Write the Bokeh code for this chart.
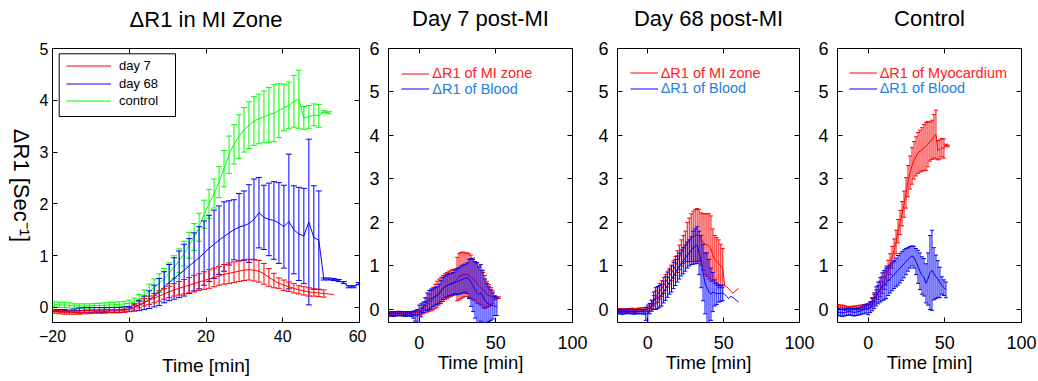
import math
import numpy as np
from bokeh.plotting import figure
from bokeh.layouts import row
from bokeh.models import Range1d, FixedTicker, LinearAxis, Legend, LegendItem, BoxAnnotation
from bokeh.embed import file_html
from bokeh.resources import INLINE

FONT = "Liberation Sans"
NaN = float("nan")

# ---------------- data ----------------
# sampling times [min]
T = [-19.5, -18.2, -16.9, -15.6, -14.3, -13.0, -11.7, -10.4, -9.1, -7.8,
     -6.5, -5.2, -3.9, -2.6, -1.3,
     0.0, 1.3, 2.6, 3.9, 5.2, 6.5, 7.8, 9.1, 10.4, 11.7,
     13.0, 14.3, 15.6, 16.9, 18.2, 19.5, 20.8, 22.1, 23.4, 24.7,
     26.0, 27.3, 28.6, 29.9, 31.2, 32.5, 33.8, 35.1, 36.4, 37.7,
     39.0, 40.3, 41.6, 42.9, 44.2, 45.5, 46.8, 48.1, 49.4, 50.7,
     52.0]
T_TAIL = [53.3, 54.6, 55.9, 57.2, 58.5, 59.8, 61.1]

# Control myocardium (green in panel 1, red in panel 4)
ctrl_myo_mean = [0.06, 0.05, 0.05, 0.04, 0.03, 0.03, 0.03, 0.03, 0.04, 0.04,
                 0.04, 0.05, 0.05, 0.06, 0.07,
                 0.08, 0.11, 0.16, 0.23, 0.31, 0.39, 0.47, 0.56, 0.66, 0.78,
                 0.90, 1.04, 1.20, 1.36, 1.55, 1.80, 2.00, 2.20, 2.42, 2.68,
                 2.95, 3.15, 3.30, 3.43, 3.52, 3.60, 3.64, 3.68, 3.72, 3.75,
                 3.80, 3.86, 3.90, 3.98, 4.02, 3.66, 3.68, 3.72, 3.70, 3.78,
                 3.76]
ctrl_myo_err = [0.05, 0.05, 0.05, 0.05, 0.04, 0.04, 0.04, 0.04, 0.04, 0.04,
                0.05, 0.05, 0.05, 0.05, 0.05,
                0.06, 0.07, 0.09, 0.11, 0.14, 0.16, 0.18, 0.19, 0.20, 0.22,
                0.23, 0.24, 0.25, 0.26, 0.27, 0.27, 0.28, 0.28, 0.30, 0.35,
                0.36, 0.38, 0.42, 0.43, 0.45, 0.47, 0.48, 0.50, 0.53, 0.55,
                0.52, 0.45, 0.45, 0.50, 0.56, 0.22, 0.22, 0.21, 0.22, 0.02,
                0.02]

# Panel 1: day 68 MI zone (blue)
d68_zone_mean = [-0.06, -0.06, -0.06, -0.07, -0.06, -0.06, -0.05, -0.05, -0.05, -0.05,
                 -0.05, -0.05, -0.05, -0.05, -0.04,
                 -0.03, 0.00, 0.04, 0.09, 0.15, 0.22, 0.30, 0.39, 0.48, 0.56,
                 0.64, 0.72, 0.80, 0.88, 0.96, 1.05, 1.14, 1.22, 1.30, 1.37,
                 1.44, 1.50, 1.55, 1.58, 1.62, 1.70, 1.83, 1.74, 1.70, 1.68,
                 1.63, 1.56, 1.66, 1.50, 1.42, 1.38, 1.65, 1.35, 1.30, 0.55,
                 0.55]
d68_zone_err = [0.02, 0.02, 0.02, 0.02, 0.03, 0.05, 0.05, 0.05, 0.05, 0.05,
                0.05, 0.05, 0.05, 0.05, 0.05,
                0.05, 0.07, 0.10, 0.13, 0.17, 0.21, 0.26, 0.30, 0.35, 0.40,
                0.45, 0.50, 0.53, 0.56, 0.60, 0.62, 0.64, 0.66, 0.66, 0.67,
                0.62, 0.58, 0.65, 0.67, 0.75, 0.78, 0.68, 0.62, 0.70, 0.75,
                0.78, 0.80, 1.30, 0.85, 0.90, 0.92, 1.60, 1.00, 0.95, 0.02,
                0.02]
d68_zone_tail = [0.54, 0.52, 0.48, 0.40, 0.40, 0.46, 0.47]
d68_zone_tail_err = [0.02, 0.02, 0.02, 0.02, 0.02, 0.02, 0.02]

# Panel 1: day 7 MI zone (red)
d7_zone_mean = [-0.08, -0.09, -0.10, -0.10, -0.10, -0.10, -0.09, -0.09, -0.08, -0.08,
                -0.08, -0.07, -0.07, -0.07, -0.06,
                -0.04, 0.00, 0.05, 0.10, 0.14, 0.18, 0.22, 0.26, 0.30, 0.34,
                0.37, 0.40, 0.43, 0.46, 0.49, 0.52, 0.55, 0.58, 0.61, 0.64,
                0.66, 0.68, 0.70, 0.72, 0.73, 0.72, 0.70, 0.65, 0.58, 0.52,
                0.47, 0.43, 0.40, 0.37, 0.34, 0.32, 0.30, 0.29, 0.28, 0.27,
                0.26]
d7_zone_err = [0.03, 0.03, 0.03, 0.03, 0.03, 0.03, 0.03, 0.03, 0.03, 0.03,
               0.03, 0.03, 0.03, 0.03, 0.03,
               0.04, 0.05, 0.06, 0.07, 0.08, 0.09, 0.10, 0.10, 0.11, 0.12,
               0.13, 0.14, 0.15, 0.16, 0.16, 0.17, 0.18, 0.18, 0.18, 0.19,
               0.20, 0.20, 0.20, 0.20, 0.20, 0.21, 0.21, 0.20, 0.17, 0.14,
               0.10, 0.10, 0.09, 0.09, 0.08, 0.08, 0.08, 0.07, 0.07, 0.07,
               NaN]
d7_zone_tail = [0.25]

# Panel 2: Day 7 post-MI, MI zone (red) and blood (blue)
p2_mi_mean = [-0.10, -0.11, -0.10, -0.10, -0.09, -0.10, -0.10, -0.09, -0.09, -0.10,
              -0.10, -0.09, -0.09, -0.08, -0.08,
              -0.08, -0.04, 0.00, 0.05, 0.10, 0.15, 0.20, 0.25, 0.30, 0.35,
              0.40, 0.44, 0.48, 0.52, 0.55, 0.58, 0.60, 0.62, 0.65, 0.70,
              0.75, 0.78, 0.80, 0.80, 0.80, 0.78, 0.75, 0.70, 0.65, 0.60,
              0.55, 0.50, 0.45, 0.40, 0.35, 0.32, 0.30, 0.28, 0.27, 0.27,
              0.27]
p2_mi_err = [0.04, 0.04, 0.04, 0.04, 0.04, 0.04, 0.04, 0.04, 0.04, 0.04,
             0.04, 0.04, 0.04, 0.04, 0.04,
             0.05, 0.07, 0.10, 0.13, 0.16, 0.20, 0.23, 0.26, 0.28, 0.30,
             0.30, 0.30, 0.30, 0.30, 0.30, 0.30, 0.30, 0.30, 0.28, 0.50,
             0.53, 0.53, 0.52, 0.50, 0.50, 0.50, 0.50, 0.48, 0.45, 0.45,
             0.42, 0.40, 0.40, 0.38, 0.30, 0.25, 0.20, 0.15, 0.05, 0.02,
             0.02]
p2_bl_mean = [-0.10, -0.10, -0.11, -0.10, -0.10, -0.09, -0.10, -0.10, -0.11, -0.10,
              -0.10, -0.11, -0.12, -0.15, -0.15,
              -0.10, -0.02, 0.05, 0.12, 0.18, 0.22, 0.25, 0.27, 0.30, 0.32,
              0.36, 0.42, 0.48, 0.52, 0.55, 0.57, 0.58, 0.60, 0.62, 0.64,
              0.66, 0.68, 0.70, 0.72, 0.72, 0.70, 0.62, 0.55, 0.45, 0.38,
              0.35, 0.38, 0.30, 0.20, 0.15, 0.12, 0.10, 0.08, 0.08, 0.06,
              NaN]
p2_bl_err = [0.05, 0.05, 0.05, 0.05, 0.05, 0.05, 0.05, 0.05, 0.05, 0.05,
             0.05, 0.05, 0.08, 0.12, 0.15,
             0.20, 0.15, 0.12, 0.15, 0.20, 0.22, 0.22, 0.20, 0.20, 0.20,
             0.22, 0.24, 0.25, 0.25, 0.25, 0.25, 0.25, 0.25, 0.28, 0.30,
             0.30, 0.32, 0.32, 0.32, 0.35, 0.45, 0.55, 0.60, 0.65, 0.70,
             0.65, 0.65, 0.60, 0.50, 0.45, 0.40, 0.35, 0.30, 0.22, 0.20,
             NaN]

# Panel 3: Day 68 post-MI
p3_mi_mean = [-0.02, -0.03, -0.02, -0.02, -0.03, -0.02, -0.02, -0.01, -0.02, -0.02,
              -0.01, -0.01, 0.00, 0.00, 0.00,
              0.00, 0.05, 0.12, 0.20, 0.28, 0.35, 0.42, 0.48, 0.55, 0.62,
              0.70, 0.77, 0.84, 0.92, 1.00, 1.10, 1.20, 1.30, 1.38, 1.45,
              1.55, 1.60, 1.65, 1.68, 1.70, 1.72, 1.70, 1.62, 1.55, 1.50,
              1.48, 1.45, 1.40, 1.25, 1.15, 1.10, 1.05, 1.00, 0.95, 0.54,
              0.52]
p3_mi_err = [0.04, 0.04, 0.04, 0.04, 0.04, 0.04, 0.04, 0.04, 0.04, 0.04,
             0.04, 0.04, 0.04, 0.04, 0.04,
             0.05, 0.08, 0.10, 0.12, 0.15, 0.18, 0.18, 0.18, 0.18, 0.18,
             0.18, 0.18, 0.18, 0.20, 0.22, 0.25, 0.28, 0.30, 0.32, 0.35,
             0.45, 0.50, 0.55, 0.58, 0.60, 0.60, 0.60, 0.60, 0.65, 0.70,
             0.72, 0.75, 0.75, 0.60, 0.55, 0.55, 0.55, 0.50, 0.45, NaN,
             NaN]
p3_mi_tail = [0.48, 0.42, 0.38, 0.40, 0.45, 0.48]
p3_bl_mean = [-0.05, -0.05, -0.06, -0.05, -0.05, -0.04, -0.05, -0.05, -0.06, -0.05,
              -0.05, -0.05, -0.05, -0.06, -0.10,
              -0.10, 0.02, 0.08, 0.20, 0.25, 0.27, 0.30, 0.33, 0.40, 0.48,
              0.56, 0.63, 0.70, 0.78, 0.85, 0.93, 1.00, 1.07, 1.12, 1.18,
              1.25, 1.30, 1.35, 1.42, 1.45, 1.48, 1.30, 1.10, 0.85, 0.60,
              0.50, 0.40, 0.35, 0.40, 0.38, 0.36, 0.37, 0.37, 0.38, 0.35,
              0.30]
p3_bl_err = [0.05, 0.05, 0.05, 0.05, 0.05, 0.05, 0.05, 0.05, 0.05, 0.05,
             0.05, 0.05, 0.05, 0.05, 0.15,
             0.20, 0.12, 0.12, 0.20, 0.25, 0.25, 0.25, 0.25, 0.25, 0.27,
             0.28, 0.28, 0.30, 0.30, 0.30, 0.30, 0.30, 0.30, 0.30, 0.30,
             0.30, 0.30, 0.32, 0.38, 0.40, 0.42, 0.50, 0.60, 0.65, 0.70,
             0.80, 0.75, 0.60, 0.45, 0.30, 0.25, 0.20, 0.18, 0.18, NaN,
             NaN]
p3_bl_tail = [0.25, 0.30, 0.28, 0.25, 0.20, 0.18]

# Panel 4: Control, blood (blue); myocardium = ctrl_myo_*
p4_bl_mean = [-0.06, -0.07, -0.08, -0.07, -0.06, -0.05, -0.05, -0.06, -0.07, -0.06,
              -0.05, -0.04, -0.02, 0.00, 0.02,
              0.00, 0.05, 0.12, 0.20, 0.30, 0.38, 0.45, 0.52, 0.56, 0.60,
              0.65, 0.70, 0.75, 0.80, 0.85, 0.90, 0.95, 1.00, 1.05, 1.10,
              1.15, 1.20, 1.23, 1.20, 1.10, 0.98, 0.88, 0.78, 0.74, 0.60,
              0.70, 0.85, 0.90, 0.82, 0.75, 0.70, 0.62, 0.55, 0.50, 0.45,
              NaN]
p4_bl_err = [0.08, 0.08, 0.08, 0.08, 0.08, 0.08, 0.08, 0.08, 0.08, 0.08,
             0.08, 0.08, 0.08, 0.10, 0.10,
             0.12, 0.12, 0.15, 0.18, 0.22, 0.25, 0.28, 0.32, 0.34, 0.35,
             0.33, 0.32, 0.32, 0.32, 0.33, 0.34, 0.34, 0.33, 0.32, 0.30,
             0.27, 0.25, 0.23, 0.25, 0.30, 0.38, 0.42, 0.43, 0.43, 0.45,
             0.60, 0.85, 0.92, 0.60, 0.50, 0.42, 0.35, 0.20, 0.18, 0.18,
             NaN]

for arr in [ctrl_myo_mean, ctrl_myo_err, d68_zone_mean, d68_zone_err, d7_zone_mean,
            d7_zone_err, p2_mi_mean, p2_mi_err, p2_bl_mean, p2_bl_err, p3_mi_mean,
            p3_mi_err, p3_bl_mean, p3_bl_err, p4_bl_mean, p4_bl_err]:
    assert len(arr) == len(T), len(arr)

RED = "#FF0000"
BLUE = "#0000FF"
GREEN = "#00FF00"
RED_TXT = "#FF2020"
BLUE_TXT = "#2480DC"

H = 381
# a Bokeh row aligns the top/bottom borders of its plots, so all share these
BT, BB = 48, 59
FH = H - BT - BB   # common frame height; frame bottom at canvas y = H - BB


def base_fig(width, bl, br, xr, yr, xt, yt, tick_fs, xso, yso, xlab_fs, xlab_so,
             title, title_gap):
    p = figure(width=width, height=H, x_range=Range1d(*xr), y_range=Range1d(*yr),
               output_backend="svg", toolbar_location=None,
               min_border_left=bl, min_border_right=br,
               min_border_top=BT, min_border_bottom=BB)
    p.title.text = ""
    p.grid.visible = False
    p.background_fill_color = "white"
    p.border_fill_color = "white"
    p.outline_line_color = "black"
    p.outline_line_width = 1
    p.outline_line_alpha = 1
    p.xaxis.ticker = FixedTicker(ticks=xt)
    p.yaxis.ticker = FixedTicker(ticks=yt)
    for ax in [p.xaxis[0], p.yaxis[0]]:
        ax.major_tick_in = 5
        ax.major_tick_out = 0
        ax.minor_tick_line_color = None
        ax.axis_line_color = None
        ax.major_tick_line_color = "black"
        ax.major_label_text_font = FONT
        ax.major_label_text_font_size = f"{tick_fs}px"
        ax.major_label_text_color = "black"
    p.xaxis.major_label_standoff = xso
    p.yaxis.major_label_standoff = yso
    p.xaxis.axis_label = "Time [min]"
    p.xaxis.axis_label_text_font = FONT
    p.xaxis.axis_label_text_font_size = f"{xlab_fs}px"
    p.xaxis.axis_label_text_font_style = "normal"
    p.xaxis.axis_label_text_color = "black"
    p.xaxis.axis_label_standoff = xlab_so
    # box ticks on the right side
    ax_r = LinearAxis(ticker=FixedTicker(ticks=yt), major_tick_in=5, major_tick_out=0,
                      minor_tick_line_color=None, axis_line_color=None,
                      major_tick_line_color="black",
                      major_label_text_color=None, major_label_text_font_size="1px",
                      major_label_standoff=0)
    p.add_layout(ax_r, "right")
    # box ticks on top; its axis label carries the panel title
    ax_t = LinearAxis(ticker=FixedTicker(ticks=xt), major_tick_in=5, major_tick_out=0,
                      minor_tick_line_color=None, axis_line_color=None,
                      major_tick_line_color="black",
                      major_label_text_color=None, major_label_text_font_size="1px",
                      major_label_standoff=0,
                      axis_label=title, axis_label_text_font=FONT,
                      axis_label_text_font_size="22px", axis_label_text_font_style="normal",
                      axis_label_text_color="black", axis_label_standoff=title_gap)
    p.add_layout(ax_t, "above")
    return p


def draw_err(p, t, m, e, color, cap, lw=1.0):
    t = np.asarray(t, float)
    m = np.asarray(m, float)
    e = np.asarray(e, float)
    lo, hi = m - e, m + e
    p.segment(x0=t, y0=lo, x1=t, y1=hi, line_color=color, line_width=lw)
    p.scatter(x=t, y=hi, marker="dash", size=cap, line_color=color, line_width=lw)
    p.scatter(x=t, y=lo, marker="dash", size=cap, line_color=color, line_width=lw)


def draw_line(p, t, m, color):
    return p.line(x=list(t), y=list(m), line_color=color, line_width=1)


def one_legend(p, r, label, color, x, y, gw, std, fs):
    leg = Legend(items=[LegendItem(label=label, renderers=[r])],
                 location=(x, y), padding=0, margin=0, spacing=0,
                 glyph_width=gw, glyph_height=15, label_height=15,
                 label_standoff=std, label_text_font=FONT,
                 label_text_font_size=fs, label_text_color=color,
                 border_line_color=None, background_fill_alpha=0)
    p.add_layout(leg)


FRAME_BOTTOM = H - BB


def two_legends(p, r_red, r_blue, red_label, x_off, row1_canvas_y):
    vy = FRAME_BOTTOM - (row1_canvas_y + 8)
    one_legend(p, r_red, red_label, RED_TXT, x_off, vy, 28, 3, "14.5px")
    one_legend(p, r_blue, "\u0394R1 of Blood", BLUE_TXT, x_off, vy - 15.6, 28, 3,
               "14.5px")


# ---------------- y-axis title strip (left of panel 1) ----------------
WY = 36
py = figure(width=WY, height=H, x_range=Range1d(0, 1), y_range=Range1d(0, 1),
            x_axis_type=None, y_axis_type=None, output_backend="svg",
            toolbar_location=None, min_border_left=0, min_border_right=WY - 5,
            min_border_top=BT, min_border_bottom=BB)
py.title.text = ""
py.grid.visible = False
py.outline_line_color = None
py.background_fill_color = "white"
py.border_fill_color = "white"
ax_y = LinearAxis(ticker=FixedTicker(ticks=[]), major_tick_line_color=None,
                  minor_tick_line_color=None, axis_line_color=None,
                  major_label_text_color=None, major_label_text_font_size="1px",
                  major_label_standoff=0,
                  axis_label="\u0394R1 [Sec\u207b\u00b9]", axis_label_text_font=FONT,
                  axis_label_text_font_size="22px", axis_label_text_font_style="normal",
                  axis_label_text_color="black", axis_label_standoff=3)
py.add_layout(ax_y, "right")

# ---------------- panel 1 ----------------
W1, BL1, BR1 = 366 - WY, 51 - WY, 7
p1 = base_fig(W1, BL1, BR1, (-20, 60), (-0.29, 5),
              [-20, 0, 20, 40, 60], [0, 1, 2, 3, 4, 5], 16, 7, 4, 19, 10,
              "\u0394R1 in MI Zone", 17)

draw_err(p1, T, ctrl_myo_mean, ctrl_myo_err, GREEN, 6)
r_green = draw_line(p1, T, ctrl_myo_mean, GREEN)
draw_err(p1, T, d68_zone_mean, d68_zone_err, BLUE, 6)
draw_err(p1, T_TAIL, d68_zone_tail, d68_zone_tail_err, BLUE, 6)
r_blue = draw_line(p1, T + T_TAIL, d68_zone_mean + d68_zone_tail, BLUE)
draw_err(p1, T, d7_zone_mean, d7_zone_err, RED, 6)
r_red = draw_line(p1, T + T_TAIL[:1], d7_zone_mean + d7_zone_tail, RED)

p1.add_layout(BoxAnnotation(left=6.7, right=123,
                            top=FRAME_BOTTOM - 53.3, bottom=FRAME_BOTTOM - 116,
                            left_units="screen", right_units="screen",
                            top_units="screen", bottom_units="screen",
                            line_color="black", line_width=1, line_alpha=1,
                            fill_color="white", fill_alpha=1))
for i, (r, lab) in enumerate([(r_red, "day 7"), (r_blue, "day 68"), (r_green, "control")]):
    one_legend(p1, r, lab, "black", 14, FRAME_BOTTOM - 73 - 17.7 * i, 45, 8, "13px")

# ---------------- panel 2 ----------------
p2 = base_fig(229, 19, 23, (-20, 100), (-0.3, 6),
              [0, 50, 100], [0, 1, 2, 3, 4, 5, 6], 18, 13, 9, 18.5, 0,
              "Day 7 post-MI", 18)
draw_err(p2, T, p2_mi_mean, p2_mi_err, RED, 4)
r2r = draw_line(p2, T, p2_mi_mean, RED)
draw_err(p2, T, p2_bl_mean, p2_bl_err, BLUE, 4)
r2b = draw_line(p2, T, p2_bl_mean, BLUE)
two_legends(p2, r2r, r2b, "\u0394R1 of MI zone", 13.3, 73)

# ---------------- panel 3 ----------------
p3 = base_fig(220, 19, 16, (-20, 100), (-0.3, 6),
              [0, 50, 100], [0, 1, 2, 3, 4, 5, 6], 18, 13, 9, 18.5, 0,
              "Day 68 post-MI", 18)
draw_err(p3, T, p3_mi_mean, p3_mi_err, RED, 4)
r3r = draw_line(p3, T + T_TAIL[:6], p3_mi_mean + p3_mi_tail, RED)
draw_err(p3, T, p3_bl_mean, p3_bl_err, BLUE, 4)
r3b = draw_line(p3, T + T_TAIL[:6], p3_bl_mean + p3_bl_tail, BLUE)
two_legends(p3, r3r, r3b, "\u0394R1 of MI zone", 12.7, 72.7)

# ---------------- panel 4 ----------------
p4 = base_fig(223, 19, 17, (-20, 100), (-0.3, 6),
              [0, 50, 100], [0, 1, 2, 3, 4, 5, 6], 18, 13, 9, 18.5, 0,
              "Control", 18)
draw_err(p4, T, ctrl_myo_mean, ctrl_myo_err, RED, 4)
r4r = draw_line(p4, T, ctrl_myo_mean, RED)
draw_err(p4, T, p4_bl_mean, p4_bl_err, BLUE, 4)
r4b = draw_line(p4, T, p4_bl_mean, BLUE)
two_legends(p4, r4r, r4b, "\u0394R1 of Myocardium", 11.7, 72.7)

layout = row(py, p1, p2, p3, p4, spacing=0)
open("out.html", "w").write(file_html(layout, INLINE))
